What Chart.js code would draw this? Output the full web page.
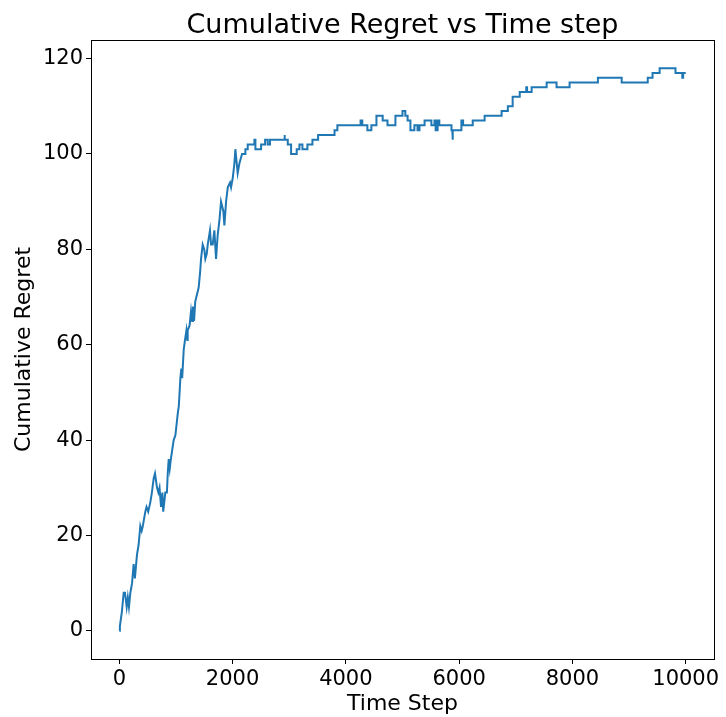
<!DOCTYPE html>
<html>
<head>
<meta charset="utf-8">
<script src="https://cdn.jsdelivr.net/npm/chart.js@4"></script>
<style>
  body { margin: 0; background: #fff; }
  #wrap { width: 726px; height: 717px; }
</style>
</head>
<body>
<div id="wrap"><canvas id="regretChart" width="726" height="717"></canvas></div>
<script>
// early, noisy part of the curve (drawn as a plain line)
const jitterSteps = [0, 10, 45, 77, 100, 130, 150, 170, 195, 225, 253, 275, 312, 340, 371, 395, 415, 459, 480, 510,
    548, 575, 607, 630, 666, 690, 710, 737, 760, 775, 812, 840, 855, 872, 890, 910, 960, 990, 1036, 1050,
    1078, 1095, 1110, 1137, 1160, 1185, 1200, 1207, 1240, 1266, 1285, 1300, 1320, 1340, 1401, 1425, 1443, 1472, 1500, 1519,
    1543, 1561, 1601, 1620, 1649, 1678, 1708, 1737, 1767, 1796, 1837, 1855, 1885, 1915, 1955, 1973, 2003, 2032, 2049, 2090,
    2120, 2167];
const jitterRegret = [0, 1, 4, 8, 8, 5, 7, 5, 8, 10, 14, 11, 16, 18, 22, 21, 22, 25, 26, 25,
    27, 29, 32, 33, 30, 29, 30, 26, 29, 25, 29, 29, 33, 36, 34, 36, 40, 41, 46, 47,
    53, 55, 53, 59, 61, 63, 61, 63, 64, 67, 65, 68, 65, 69, 72, 75, 78, 81, 80, 78,
    79, 81, 84, 81, 81, 84, 78, 83, 86, 90, 88, 85, 90, 93, 94, 93, 95, 98, 101, 96,
    98, 100];

// later part: time step where the regret changes, and its new value
const stepSteps = [2226, 2267, 2385, 2403, 2503, 2574, 2620, 2660, 2910, 2925, 2974, 3033, 3132, 3180, 3233, 3321, 3410, 3510, 3800, 3850,
    4260, 4290, 4380, 4450, 4540, 4650, 4735, 4875, 5000, 5050, 5090, 5140, 5210, 5265, 5300, 5390, 5510, 5565, 5585, 5620,
    5650, 5865, 5880, 5890, 6040, 6070, 6240, 6450, 6750, 6860, 6945, 7070, 7185, 7200, 7280, 7545, 7720, 7950, 8450, 8870,
    9330, 9415, 9540, 9820, 9940, 9955, 10000];
const stepRegret = [101, 102, 103, 101, 102, 103, 102, 103, 104, 103, 102, 100, 101, 102, 101, 102, 103, 104, 105, 106,
    107, 106, 105, 106, 108, 107, 106, 108, 109, 108, 107, 105, 106, 105, 106, 107, 106, 107, 105, 107,
    106, 105, 103, 105, 107, 106, 107, 108, 109, 110, 112, 113, 114, 113, 114, 115, 114, 115, 116, 115,
    116, 117, 118, 117, 116, 117, 117];

const xTicks = [0, 2000, 4000, 6000, 8000, 10000];
const yTicks = [0, 20, 40, 60, 80, 100, 120];
const chartTitle = 'Cumulative Regret vs Time step';

function buildPoints() {
    const points = jitterSteps.map((x, i) => ({ x: x, y: jitterRegret[i] }));
    let prev = jitterRegret[jitterRegret.length - 1];
    stepSteps.forEach((x, i) => {
        points.push({ x: x, y: prev });
        points.push({ x: x, y: stepRegret[i] });
        prev = stepRegret[i];
    });
    return points;
}

const font = 'DejaVu Sans';

// box around the axes plus a title centred over the plot area (like matplotlib)
const frame = {
    id: 'frame',
    afterDraw(chart) {
        const { ctx, chartArea: a } = chart;
        ctx.save();
        ctx.strokeStyle = '#000';
        ctx.lineWidth = 1;
        ctx.strokeRect(Math.round(a.left) + 0.5, Math.round(a.top) + 0.5,
            Math.round(a.right - a.left), Math.round(a.bottom - a.top));
        ctx.fillStyle = '#000';
        ctx.font = '27px "' + font + '"';
        ctx.textAlign = 'center';
        ctx.textBaseline = 'alphabetic';
        ctx.fillText(chartTitle, (a.left + a.right) / 2, 33);
        ctx.restore();
    }
};

const axisGrid = { drawOnChartArea: false, drawTicks: true, tickLength: 5, color: '#000', tickWidth: 1 };
const tickFont = { family: font, size: 21 };
const labelFont = { family: font, size: 22 };

new Chart(document.getElementById('regretChart').getContext('2d'), {
    type: 'line',
    data: {
        datasets: [{
            data: buildPoints(),
            borderColor: '#1f77b4',
            borderWidth: 2,
            pointRadius: 0,
            tension: 0,
            fill: false
        }]
    },
    options: {
        responsive: false,
        animation: false,
        layout: { padding: { left: 0, right: 12, top: 40, bottom: 0 } },
        plugins: {
            legend: { display: false },
            tooltip: { enabled: false },
            title: { display: false }
        },
        scales: {
            x: {
                type: 'linear',
                min: -500,
                max: 10500,
                afterBuildTicks: s => { s.ticks = xTicks.map(v => ({ value: v })); },
                afterFit: s => { s.height = 58; },
                grid: axisGrid,
                border: { display: true, color: '#000', width: 1 },
                ticks: { color: '#000', font: tickFont, padding: 3, maxRotation: 0, callback: v => String(v) },
                title: { display: true, text: 'Time Step', color: '#000', font: labelFont, padding: { top: 0, bottom: 0 } }
            },
            y: {
                type: 'linear',
                min: -5.9,
                max: 123.9,
                afterBuildTicks: s => { s.ticks = yTicks.map(v => ({ value: v })); },
                afterFit: s => { s.width = 91; },
                grid: axisGrid,
                border: { display: true, color: '#000', width: 1 },
                ticks: { color: '#000', font: tickFont, padding: 3, callback: v => String(v) },
                title: { display: true, text: 'Cumulative Regret', color: '#000', font: labelFont, padding: { top: 11, bottom: 0 } }
            }
        }
    },
    plugins: [frame]
});
</script>
</body>
</html>
